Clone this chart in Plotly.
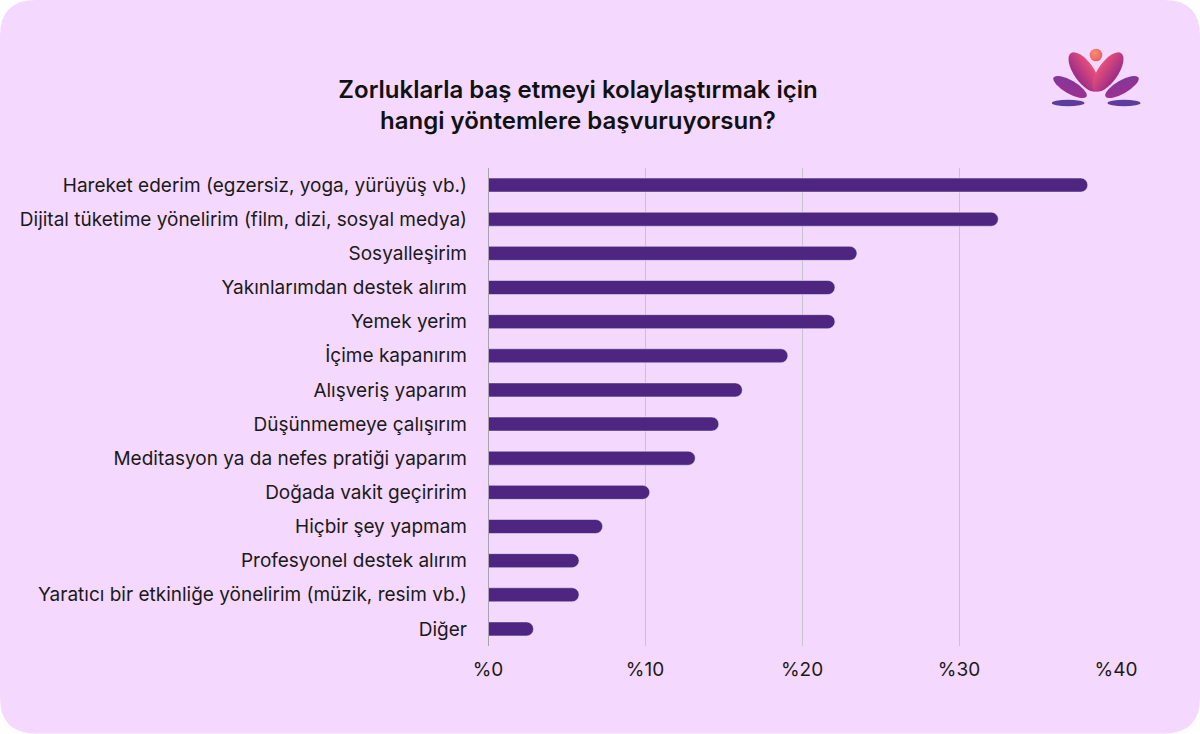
import base64
import plotly.graph_objects as go

# Veriler (yüzde)
yontemler = [
    "Hareket ederim (egzersiz, yoga, yürüyüş vb.)",
    "Dijital tüketime yönelirim (film, dizi, sosyal medya)",
    "Sosyalleşirim",
    "Yakınlarımdan destek alırım",
    "Yemek yerim",
    "İçime kapanırım",
    "Alışveriş yaparım",
    "Düşünmemeye çalışırım",
    "Meditasyon ya da nefes pratiği yaparım",
    "Doğada vakit geçiririm",
    "Hiçbir şey yapmam",
    "Profesyonel destek alırım",
    "Yaratıcı bir etkinliğe yönelirim (müzik, resim vb.)",
    "Diğer",
]
oranlar = [38.2, 32.5, 23.5, 22.1, 22.1, 19.1, 16.2, 14.7, 13.2, 10.3, 7.3, 5.8, 5.8, 2.9]
tick_degerleri = [0, 10, 20, 30, 40]
tick_etiketleri = ["%0", "%10", "%20", "%30", "%40"]

baslik = "Zorluklarla baş etmeyi kolaylaştırmak için<br>hangi yöntemlere başvuruyorsun?"

W, H = 1200, 734
ML, MR, MT, MB = 488, 84, 168, 88
PW, PH = W - ML - MR, H - MT - MB


def px(x, y):
    # piksel -> paper koordinatı
    return (x - ML) / PW, (H - MB - y) / PH


def rounded_rect(x0, y0, x1, y1, r):
    pts = []
    a = px(x0 + r, y0); pts.append(f"M {a[0]},{a[1]}")
    a = px(x1 - r, y0); pts.append(f"L {a[0]},{a[1]}")
    c = px(x1, y0); a = px(x1, y0 + r); pts.append(f"Q {c[0]},{c[1]} {a[0]},{a[1]}")
    a = px(x1, y1 - r); pts.append(f"L {a[0]},{a[1]}")
    c = px(x1, y1); a = px(x1 - r, y1); pts.append(f"Q {c[0]},{c[1]} {a[0]},{a[1]}")
    a = px(x0 + r, y1); pts.append(f"L {a[0]},{a[1]}")
    c = px(x0, y1); a = px(x0, y1 - r); pts.append(f"Q {c[0]},{c[1]} {a[0]},{a[1]}")
    a = px(x0, y0 + r); pts.append(f"L {a[0]},{a[1]}")
    c = px(x0, y0); a = px(x0 + r, y0); pts.append(f"Q {c[0]},{c[1]} {a[0]},{a[1]} Z")
    return " ".join(pts)


# lotus logosu (svg)
logo_svg = """<svg xmlns="http://www.w3.org/2000/svg" width="100" height="70" viewBox="0 0 100 70">
<defs>
<linearGradient id="up" x1="0" y1="0" x2="0" y2="1">
<stop offset="0" stop-color="#e8507a"/><stop offset="1" stop-color="#9b2b86"/></linearGradient>
<linearGradient id="lo" x1="0" y1="0" x2="1" y2="1">
<stop offset="0" stop-color="#7a3a9e"/><stop offset="1" stop-color="#a62c8e"/></linearGradient>
<linearGradient id="lo2" x1="1" y1="0" x2="0" y2="1">
<stop offset="0" stop-color="#7a3a9e"/><stop offset="1" stop-color="#a62c8e"/></linearGradient>
<radialGradient id="sun" cx="0.4" cy="0.35" r="0.7">
<stop offset="0" stop-color="#f7906a"/><stop offset="1" stop-color="#ea5a6a"/></radialGradient>
</defs>
<ellipse cx="16" cy="62" rx="16.5" ry="3.3" fill="#5e3c9d"/>
<ellipse cx="72" cy="62" rx="16.5" ry="3.3" fill="#5e3c9d"/>
<ellipse cx="18" cy="46" rx="19" ry="6.5" fill="url(#lo)" transform="rotate(30 18 46)"/>
<ellipse cx="70" cy="46" rx="19" ry="6.5" fill="url(#lo2)" transform="rotate(-30 70 46)"/>
<ellipse cx="32" cy="31" rx="23" ry="10" fill="url(#up)" transform="rotate(55 32 31)"/>
<ellipse cx="56" cy="31" rx="23" ry="10" fill="url(#up)" transform="rotate(-55 56 31)"/>
<circle cx="44" cy="14" r="6.3" fill="url(#sun)"/>
</svg>"""
logo_src = "data:image/svg+xml;base64," + base64.b64encode(logo_svg.encode()).decode()

fig = go.Figure()

fig.add_trace(go.Bar(
    x=oranlar,
    y=yontemler,
    orientation="h",
    marker=dict(color="#4f2582", cornerradius=7),
    width=0.41,
    hoverinfo="x+y",
))

fig.update_layout(
    width=W,
    height=H,
    margin=dict(l=ML, r=MR, t=MT, b=MB),
    paper_bgcolor="white",
    plot_bgcolor="rgba(0,0,0,0)",
    showlegend=False,
    font=dict(family="Inter, Roboto, sans-serif", color="#1a1a1a"),
    title=dict(
        text=baslik,
        x=578 / W,
        xref="container",
        xanchor="center",
        y=1 - 98 / H,
        yref="container",
        yanchor="middle",
        font=dict(size=24, color="#111111", family="Inter, Roboto, sans-serif", weight=600),
    ),
    xaxis=dict(
        range=[0, 40],
        tickvals=tick_degerleri,
        ticktext=tick_etiketleri,
        showgrid=True,
        gridcolor="#cbc2cf",
        gridwidth=1,
        zeroline=False,
        showline=False,
        ticks="",
        tickfont=dict(size=19, color="#1a1a1a"),
        ticklabelstandoff=10,
        fixedrange=True,
    ),
    yaxis=dict(
        categoryorder="array",
        categoryarray=yontemler,
        autorange="reversed",
        showgrid=False,
        zeroline=False,
        showline=False,
        ticks="",
        tickfont=dict(size=19, color="#1a1a1a"),
        ticklabelstandoff=20,
        fixedrange=True,
    ),
    shapes=[
        dict(
            type="path",
            path=rounded_rect(0, 0, 1200, 733.5, 36),
            xref="paper",
            yref="paper",
            fillcolor="#f5d8fd",
            line=dict(width=0),
            layer="below",
        ),
        dict(
            type="line",
            xref="x",
            yref="paper",
            x0=0, x1=0, y0=0, y1=1,
            line=dict(color="#aaa2ad", width=2),
            layer="above",
        ),
    ],
    images=[
        dict(
            source=logo_src,
            xref="paper",
            yref="paper",
            x=px(1052, 0)[0],
            y=px(0, 41)[1],
            sizex=100 / PW,
            sizey=70 / PH,
            xanchor="left",
            yanchor="top",
            sizing="stretch",
            layer="above",
        )
    ],
)

# sayfa kenar boşluğunu kaldır
fig.write_html(
    "out.html",
    config={"displayModeBar": False},
    post_script="document.body.style.margin='0';",
)
